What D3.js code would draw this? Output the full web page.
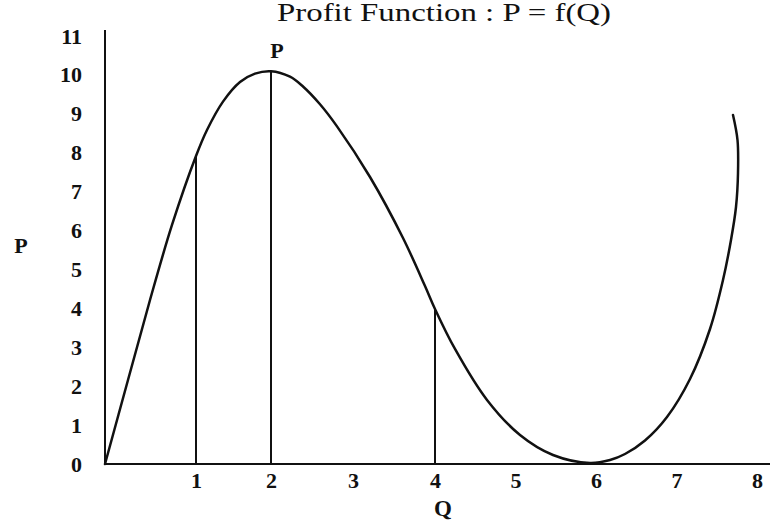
<!DOCTYPE html>
<html>
<head>
<meta charset="utf-8">
<script src="https://cdn.jsdelivr.net/npm/d3@7/dist/d3.min.js"></script>
<style>
  html, body { margin: 0; padding: 0; background: #fff; }
  svg { display: block; }
  text { font-family: "Liberation Serif", "Times New Roman", serif; fill: #111; }
</style>
</head>
<body>
<svg id="chart" width="770" height="522"></svg>
<script>
// Output level Q and profit P along the sketched profit curve
const curveQ = [0, 0.2527, 0.4945, 0.7363, 1.0, 1.1467, 1.36, 1.5867, 1.7867, 2.0,
  2.2317, 2.3902, 2.5976, 2.8049, 3.2073, 3.6098, 3.878, 4.0, 4.2484, 4.646, 5.0559, 5.4658, 5.9255,
  6.1739, 6.3602, 6.6087, 6.882, 7.1677, 7.4161, 7.5776, 7.677, 7.7391, 7.764, 7.7578, 7.7019];
const curveP = [0, 2.159, 4.215, 6.143, 7.916, 8.584, 9.314, 9.818, 10.034, 10.095,
  9.954, 9.702, 9.245, 8.677, 7.376, 5.808, 4.575, 3.984, 2.956, 1.645, 0.745, 0.231, 0.026,
  0.103, 0.257, 0.604, 1.208, 2.185, 3.47, 4.729, 5.757, 6.605, 7.479, 8.327, 8.97];

// Vertical drop lines from the axis up to the curve
const dropQ = [1, 2, 4];
const dropP = [7.916, 10.095, 3.984];

// Axis tick labels
const qTicks = [1, 2, 3, 4, 5, 6, 7, 8];
const pTicks = [0, 1, 2, 3, 4, 5, 6, 7, 8, 9, 10, 11];

const svg = d3.select("#chart");

// Hand-drawn Q axis: spacing is slightly uneven, so the scale has several stops
const x = d3.scaleLinear()
  .domain([0, 1, 2, 4, 8])
  .range([105, 196, 271, 435, 757]);

const y = d3.scaleLinear()
  .domain([0, 11])
  .range([464, 36]);

// Axis lines
svg.append("line")
  .attr("x1", x(0)).attr("x2", x(0))
  .attr("y1", 30).attr("y2", y(0))
  .attr("stroke", "#111").attr("stroke-width", 2);
svg.append("line")
  .attr("x1", x(0) - 1).attr("x2", 770)
  .attr("y1", y(0)).attr("y2", y(0))
  .attr("stroke", "#111").attr("stroke-width", 2);

// Tick labels via D3 axes (no tick marks, no domain path)
const xAxis = svg.append("g")
  .attr("transform", `translate(0,${y(0)})`)
  .call(d3.axisBottom(x).tickValues(qTicks).tickSize(0).tickPadding(8).tickFormat(d3.format("d")));
xAxis.select(".domain").remove();
xAxis.selectAll("text")
  .attr("font-size", 22).attr("font-weight", "bold")
  .style("font-family", "'Liberation Serif', serif").attr("fill", "#1a1a2a");

const yAxis = svg.append("g")
  .attr("transform", `translate(82,0)`)
  .call(d3.axisLeft(y).tickValues(pTicks).tickSize(0).tickPadding(0).tickFormat(d3.format("d")));
yAxis.select(".domain").remove();
yAxis.selectAll("text")
  .attr("font-size", 22).attr("font-weight", "bold")
  .style("font-family", "'Liberation Serif', serif").attr("fill", "#1a1a2a");

// Drop lines
svg.selectAll("line.drop")
  .data(dropQ.map((q, i) => ({ q, p: dropP[i] })))
  .join("line")
  .attr("class", "drop")
  .attr("x1", d => x(d.q)).attr("x2", d => x(d.q))
  .attr("y1", y(0)).attr("y2", d => y(d.p))
  .attr("stroke", "#111").attr("stroke-width", 2);

// Profit curve
const line = d3.line()
  .x(d => x(d.q))
  .y(d => y(d.p))
  .curve(d3.curveCatmullRom.alpha(0.5));

svg.append("path")
  .datum(curveQ.map((q, i) => ({ q, p: curveP[i] })))
  .attr("d", line)
  .attr("fill", "none")
  .attr("stroke", "#111")
  .attr("stroke-width", 2.5)
  .attr("stroke-linecap", "round");

// Title and labels
svg.append("text")
  .attr("x", 277).attr("y", 21)
  .attr("font-size", 25)
  .attr("textLength", 334)
  .attr("lengthAdjust", "spacingAndGlyphs")
  .text("Profit Function : P = f(Q)");

svg.append("text")
  .attr("x", x(2) + 6).attr("y", 58)
  .attr("text-anchor", "middle")
  .attr("font-size", 22).attr("font-weight", "bold")
  .text("P");

svg.append("text")
  .attr("x", 21).attr("y", 253)
  .attr("text-anchor", "middle")
  .attr("font-size", 22).attr("font-weight", "bold")
  .text("P");

svg.append("text")
  .attr("x", 443).attr("y", 516)
  .attr("text-anchor", "middle")
  .attr("font-size", 23).attr("font-weight", "bold")
  .text("Q");
</script>
</body>
</html>
